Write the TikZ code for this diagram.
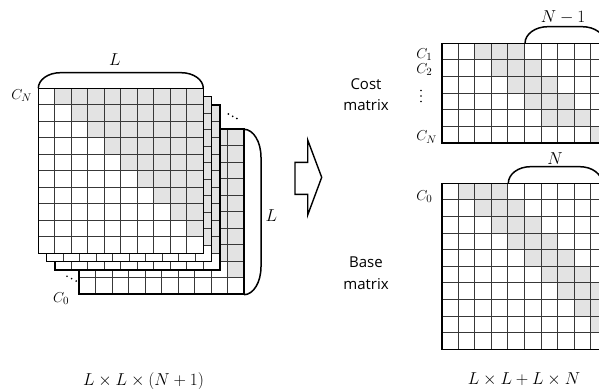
\documentclass[tikz,border=0pt]{standalone}
\usepackage{fontspec}
\newfontfamily\labfont{Open Sans}
\begin{document}
\begin{tikzpicture}[x=1pt,y=-1pt,
  cellfill/.style={fill=black!11},
  gridline/.style={draw=black!78,line width=1pt},
  border/.style={draw=black,line width=1.6pt},
  brace/.style={draw=black,line width=1.5pt},
  blockarrow/.style={draw=black,line width=1.4pt,fill=white,line join=miter},
  mlab/.style={inner sep=0pt,anchor=base,font=\fontsize{16.5}{18}\selectfont},
  clab/.style={inner sep=0pt,anchor=base west,font=\fontsize{15}{17}\selectfont},
  tlab/.style={inner sep=0pt,anchor=base,font=\labfont\fontsize{15}{18}\selectfont},
  blab/.style={inner sep=0pt,anchor=base,font=\fontsize{17}{19}\selectfont}]
\clip (0,0) rectangle (599,388);
\fill[white] (0,0) rectangle (599,388);

% ---------- left stack of L x L matrices ----------
\foreach \o in {40.7,16.6,8.3,0}{
  \begin{scope}[shift={(38.3+\o,88.3+\o)}]
    \fill[white] (0,0) rectangle (165,165);
    \foreach \i in {0,...,8}{
      \pgfmathtruncatemacro\s{\i+1}
      \foreach \j in {\s,...,9}{\fill[cellfill] (\j*16.5,\i*16.5) rectangle ++(16.5,16.5);}
    }
    \foreach \k in {1,...,9}{
      \draw[gridline] (\k*16.5,0) -- ++(0,165);
      \draw[gridline] (0,\k*16.5) -- ++(165,0);
    }
    \draw[border] (0,0) rectangle (165,165);
  \end{scope}}

% braces of the stack
\coordinate (ftl) at (38.3,88.3);
\coordinate (ftr) at (203.3,88.3);
\draw[brace] (ftl) .. controls (38.3,79.7) and (48.2,72.7) .. (60.3,72.7)
  -- (181.3,72.7) .. controls (193.4,72.7) and (203.3,79.7) .. (ftr);
\coordinate (btr) at (244,129.3);
\coordinate (bbr) at (244,294.7);
\draw[brace] (btr) .. controls (253.4,129.3) and (261,141.8) .. (261,157.3)
  -- (261,266.7) .. controls (261,282.2) and (253.4,294.7) .. (bbr);

\node[mlab] (Ltop) at (115,65) {$L$};
\node[mlab] (Lright) at (271.5,221.5) {$L$};
\node[clab] (CNleft) at (11.2,99) {$C_N$};
\node[clab] (C0left) at (52.8,302) {$C_0$};
\foreach \p in {(228.3,114),(232.7,116.3),(236.9,118.5),(67,276.2),(71.6,278.6),(76.2,281)}{\fill \p circle (0.95);}

\node[blab] (dimleft) at (143.5,385) {$L\times L\times(N+1)$};

% ---------- block arrow ----------
\draw[blockarrow] (295,162.3) -- (307.7,162.3) -- (307.7,140) -- (321.7,177.3)
  -- (307.7,215) -- (307.7,194.3) -- (295,194.3) -- cycle;

\node[tlab] (cost1) at (366,89) {Cost};
\node[tlab] (cost2) at (366,110) {matrix};
\node[tlab] (base1) at (366,267.3) {Base};
\node[tlab] (base2) at (366,289) {matrix};

% ---------- cost matrix ----------
\begin{scope}[shift={(441.7,43.3)}]
  \fill[white] (0,0) rectangle (215,99.6);
  \foreach \i/\a in {0/2,1/3,2/4,3/5,4/6,5/9}{
    \foreach \d in {0,1,2}{\fill[cellfill] ({(\a+\d)*16.55},\i*16.6) rectangle ++(16.55,16.6);}}
  \foreach \k in {1,...,12}{\draw[gridline] (\k*16.55,0) -- ++(0,99.6);}
  \foreach \k in {1,...,5}{\draw[gridline] (0,\k*16.6) -- ++(215,0);}
  \draw[border] (215,0) -- (0,0) -- (0,99.6) -- (215,99.6);
\end{scope}
\coordinate (cbl) at (525,43.3);
\coordinate (cbr) at (605,43.3);
\draw[brace] (cbl) .. controls (525,34.1) and (535.3,26.7) .. (547.5,26.7)
  -- (582.5,26.7) .. controls (594.7,26.7) and (605,34.1) .. (cbr);
\node[mlab] (Nm1) at (563,22.7) {$N-1$};

\node[clab] (C1) at (416.2,58.3) {$C_1$};
\node[clab] (C2) at (416.2,73.3) {$C_2$};
\foreach \yy in {90.5,96,101.5}{\fill (421,\yy) circle (0.95);}
\node[clab] (CN) at (416.2,140.5) {$C_N$};

% ---------- base matrix ----------
\begin{scope}[shift={(441.7,183.3)}]
  \fill[white] (0,0) rectangle (215,166);
  \foreach \i in {0,...,9}{
    \foreach \d in {1,2,3}{\fill[cellfill] ({(\i+\d)*16.55},\i*16.6) rectangle ++(16.55,16.6);}}
  \foreach \k in {1,...,12}{\draw[gridline] (\k*16.55,0) -- ++(0,166);}
  \foreach \k in {1,...,9}{\draw[gridline] (0,\k*16.6) -- ++(215,0);}
  \draw[border] (215,0) -- (0,0) -- (0,166) -- (215,166);
\end{scope}
\coordinate (bbl) at (508.3,183.3);
\coordinate (bbrr) at (602,183.3);
\draw[brace] (bbl) .. controls (508.3,174.1) and (518.2,166.7) .. (530.3,166.7)
  -- (580,166.7) .. controls (592.1,166.7) and (602,174.1) .. (bbrr);
\node[mlab] (Nlab) at (555,164) {$N$};
\node[clab] (C0) at (416.2,200) {$C_0$};

\node[blab] (dimright) at (524,384.3) {$L\times L+L\times N$};
\end{tikzpicture}
\end{document}
